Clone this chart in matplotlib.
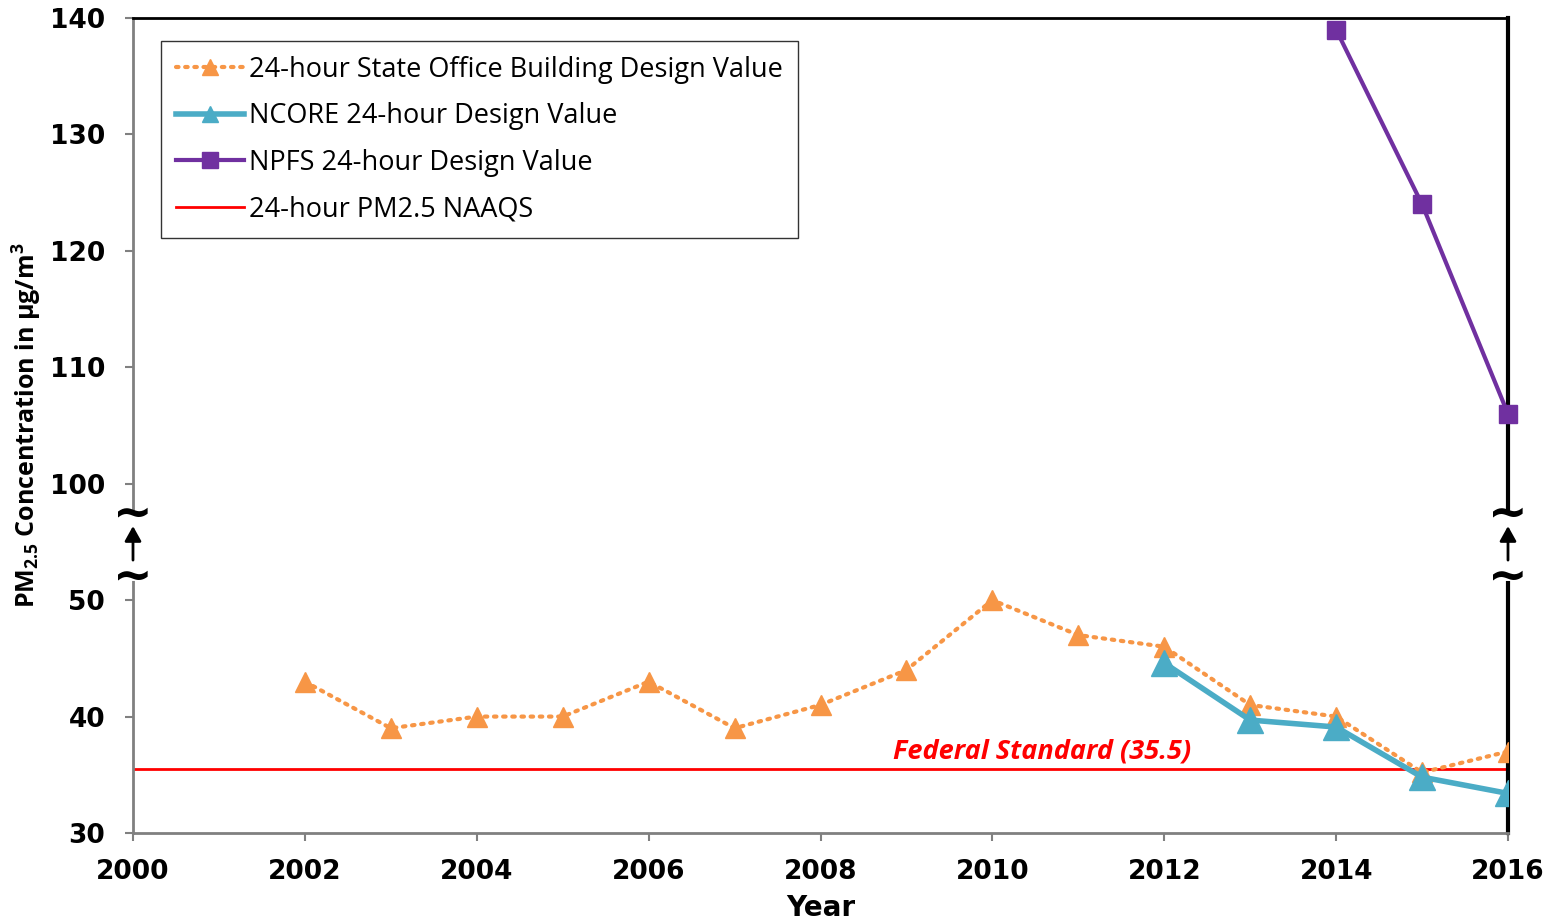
import matplotlib.pyplot as plt
import numpy as np

plt.rcParams['font.family'] = ['DejaVu Sans']
plt.rcParams['mathtext.default'] = 'regular'

years_sob = [2002, 2003, 2004, 2005, 2006, 2007, 2008, 2009, 2010, 2011, 2012, 2013, 2014, 2015, 2016]
sob_dv = [43, 39, 40, 40, 43, 39, 41, 44, 50, 47, 46, 41, 40, 35.2, 37]

years_ncore = [2012, 2013, 2014, 2015, 2016]
ncore_dv = [44.6, 39.7, 39.1, 34.8, 33.4]

years_npfs = [2014, 2015, 2016]
npfs_dv = [139, 124, 106]

naaqs = 35.5

ytick_vals = [30, 40, 50, 100, 110, 120, 130, 140]
xtick_vals = list(range(2000, 2017, 2))

# broken axis: everything from 100 up is shifted down to sit just above 50
def brk(v):
    v = np.asarray(v, dtype=float)
    return np.where(v >= 100, v - 40, v)

fig = plt.figure(figsize=(15.49, 9.24), dpi=100)
ax = fig.add_axes([133/1549, 1 - 833/924, (1508 - 133)/1549, (833 - 18)/924])

orange = '#F79646'
teal = '#4BACC6'
purple = '#7030A0'

ax.plot(years_sob, brk(sob_dv), linestyle=(0, (0.6, 1.6)), dash_capstyle='round', color=orange,
        lw=3, marker='^', ms=15, mec=orange, mfc=orange, zorder=3,
        label='24-hour State Office Building Design Value')
ax.plot(years_ncore, brk(ncore_dv), color=teal, lw=4, marker='^', ms=19, zorder=4,
        label='NCORE 24-hour Design Value')
ax.plot(years_npfs, brk(npfs_dv), color=purple, lw=3, marker='s', ms=13, zorder=4,
        label='NPFS 24-hour Design Value', clip_on=False)
ax.axhline(naaqs, color='red', lw=2, zorder=2, label='24-hour PM2.5 NAAQS')

ax.text(2010.58, 37.0, 'Federal Standard (35.5)', color='red', fontsize=19.5, fontweight='bold',
        fontstyle='italic', family=['Open Sans', 'DejaVu Sans'], ha='center', va='center')

ax.set_xlim(2000, 2016)
ax.set_ylim(30, 100)
ax.set_xticks(xtick_vals)
ax.set_yticks(brk(ytick_vals))
ax.set_yticklabels([str(v) for v in ytick_vals])
for lab in ax.get_xticklabels() + ax.get_yticklabels():
    lab.set_fontweight('bold')
    lab.set_fontsize(19)

ax.tick_params(axis='both', direction='out', color='#808080', width=1.5, length=6)
ax.tick_params(axis='x', pad=13)
ax.tick_params(axis='y', pad=14)
ax.spines['left'].set_color('#808080')
ax.spines['bottom'].set_color('#808080')
ax.spines['left'].set_linewidth(2)
ax.spines['bottom'].set_linewidth(2)
ax.spines['top'].set_color('black')
ax.spines['top'].set_linewidth(2)
ax.spines['right'].set_color('black')
ax.spines['right'].set_linewidth(3)

ax.set_xlabel('Year', fontsize=20, fontweight='bold', labelpad=6)
ax.set_ylabel('PM$_{2.5}$ Concentration in µg/m$^3$', fontsize=18, fontweight='bold',
              family=['Open Sans', 'DejaVu Sans'], labelpad=4)

# break marks on both vertical axes
for xb in (2000, 2016):
    ax.plot([xb, xb], [52.0, 57.4], color='white', lw=5, zorder=5, clip_on=False)
    for yb in (52.0, 57.4):
        ax.text(xb, yb, '~', fontsize=34, fontweight='bold', ha='center', va='center',
                zorder=6, clip_on=False)
    ax.annotate('', xy=(xb, 56.6), xytext=(xb, 53.2),
                arrowprops=dict(arrowstyle='-|>,head_width=0.5,head_length=0.9', color='black', lw=2),
                zorder=6, annotation_clip=False)

leg = ax.legend(loc='upper left', bbox_to_anchor=(28/1375, 1 - 23/815),
                prop={'family': ['Open Sans', 'DejaVu Sans'], 'size': 19.5},
                frameon=True, fancybox=False, edgecolor='black', handlelength=2.5,
                handletextpad=0.2, labelspacing=0.68, borderpad=0.55, borderaxespad=0)
leg.get_frame().set_linewidth(1)
for h in leg.legend_handles:
    if hasattr(h, 'set_markersize'):
        h.set_markersize(12)

fig.savefig('out.png', dpi=100)
